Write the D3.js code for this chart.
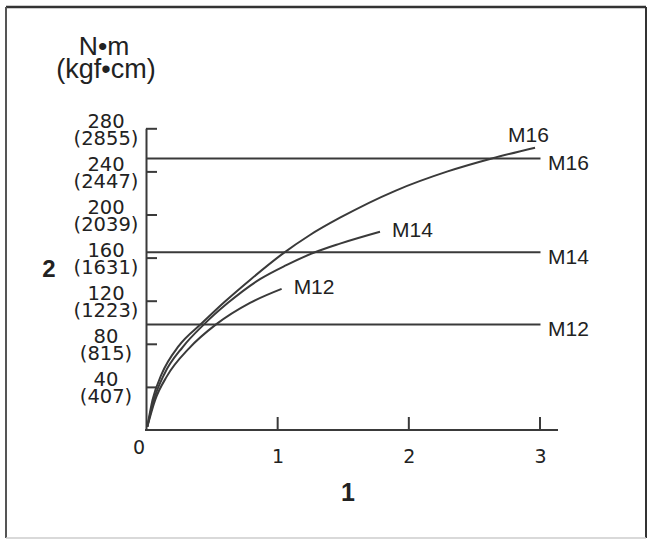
<!DOCTYPE html>
<html>
<head>
<meta charset="utf-8">
<script src="https://cdn.jsdelivr.net/npm/d3@7"></script>
<style>
  body { margin: 0; background: #fff; }
  text { font-family: "Liberation Sans", Arial, sans-serif; fill: #222; }
  text.num { font-family: "DejaVu Sans", sans-serif; }
</style>
</head>
<body>
<div id="chart"></div>
<script>
// torque curves
const xTicks = [0, 1, 2, 3];
const yTicks = [40, 80, 120, 160, 200, 240, 280];
const yTicksKgf = ["(407)", "(815)", "(1223)", "(1631)", "(2039)", "(2447)", "(2855)"];

const bolts = ["M12", "M14", "M16"];
const limits = [98, 165, 252];

const m12X = [0.01, 0.07, 0.16, 0.33, 0.534, 0.793, 1.034];
const m12Y = [3, 28, 50, 76, 98, 118, 131];
const m14X = [0.01, 0.06, 0.14, 0.28, 0.442, 0.625, 0.869, 1.07, 1.288, 1.479, 1.784];
const m14Y = [3, 28, 52, 77, 98, 118, 140, 153, 165, 173, 184];
const m16X = [0.01, 0.05, 0.12, 0.25, 0.425, 0.6, 0.8, 1.035, 1.25, 1.479, 1.9, 2.3, 2.636, 2.966];
const m16Y = [3, 28, 52, 78, 99, 119, 140, 163, 181, 197, 222, 240, 252, 262];

const curveXs = [m12X, m14X, m16X];
const curveYs = [m12Y, m14Y, m16Y];

const width = 648, height = 540;
const ink = "#3a3a3a";

const svg = d3.select("#chart")
  .append("svg")
  .attr("width", width)
  .attr("height", height);

// frame
svg.append("line").attr("x1", 6).attr("x2", 646).attr("y1", 7).attr("y2", 7)
  .attr("stroke", "#333").attr("stroke-width", 2.5);
svg.append("line").attr("x1", 6).attr("x2", 6).attr("y1", 7).attr("y2", 538)
  .attr("stroke", "#555").attr("stroke-width", 2);
svg.append("line").attr("x1", 646).attr("x2", 646).attr("y1", 7).attr("y2", 538)
  .attr("stroke", "#333").attr("stroke-width", 2);
svg.append("line").attr("x1", 6).attr("x2", 646).attr("y1", 538).attr("y2", 538)
  .attr("stroke", "#ccc").attr("stroke-width", 1.5);

const x = d3.scaleLinear().domain([0, 3]).range([146, 539.5]);
const y = d3.scaleLinear().domain([0, 280]).range([430, 128.3]);

// y axis, ticks pointing inward
const yAxis = svg.append("g")
  .attr("transform", `translate(${x(0)},0)`)
  .call(d3.axisLeft(y).tickValues(yTicks).tickSizeInner(-11).tickSizeOuter(0).tickFormat(""));
yAxis.select(".domain").attr("stroke", ink).attr("stroke-width", 2);
yAxis.selectAll(".tick line").attr("stroke", ink).attr("stroke-width", 2);

// x axis, ticks pointing up, baseline runs past 3
const xAxis = svg.append("g")
  .attr("transform", `translate(0,${y(0)})`)
  .call(d3.axisBottom(x).tickValues(xTicks.slice(1)).tickSizeInner(-13).tickSizeOuter(0).tickFormat(""));
xAxis.select(".domain").remove();
xAxis.selectAll(".tick line").attr("stroke", ink).attr("stroke-width", 2);
svg.append("line")
  .attr("x1", x(0) - 1).attr("x2", 558)
  .attr("y1", y(0)).attr("y2", y(0))
  .attr("stroke", ink).attr("stroke-width", 2);

// tick labels
svg.selectAll(".xlab")
  .data(xTicks)
  .enter()
  .append("text")
  .attr("class", "num")
  .attr("x", d => d == 0 ? x(d) - 7 : x(d) + 1)
  .attr("y", d => d == 0 ? y(0) + 24 : y(0) + 33)
  .attr("text-anchor", "middle")
  .attr("font-size", 19)
  .text(d => d);

const ylab = svg.selectAll(".ylab")
  .data(yTicks)
  .enter()
  .append("text")
  .attr("class", "num")
  .attr("text-anchor", "middle")
  .attr("font-size", 19.5);
ylab.append("tspan")
  .attr("x", 106)
  .attr("y", d => y(d) - 0.5)
  .text(d => d);
ylab.append("tspan")
  .attr("x", 106)
  .attr("y", d => y(d) + 16.5)
  .text((d, i) => yTicksKgf[i]);

// unit label
svg.append("text").attr("x", 104).attr("y", 55)
  .attr("text-anchor", "middle").attr("font-size", 26.5).text("N•m");
svg.append("text").attr("x", 106).attr("y", 78)
  .attr("text-anchor", "middle").attr("font-size", 27).text("(kgf•cm)");

// axis names
svg.append("text").attr("x", 49).attr("y", 277)
  .attr("text-anchor", "middle").attr("font-size", 24).attr("font-weight", "bold").text("2");
svg.append("text").attr("x", 348).attr("y", 501)
  .attr("text-anchor", "middle").attr("font-size", 25).attr("font-weight", "bold").text("1");

// limit lines
svg.selectAll(".limit")
  .data(limits)
  .enter()
  .append("line")
  .attr("class", "limit")
  .attr("x1", x(0)).attr("x2", x(3) + 1)
  .attr("y1", d => y(d)).attr("y2", d => y(d))
  .attr("stroke", ink).attr("stroke-width", 2);

svg.selectAll(".limitlab")
  .data(limits)
  .enter()
  .append("text")
  .attr("class", "limitlab")
  .attr("x", x(3) + 8.5)
  .attr("y", d => y(d) + 11.5)
  .attr("font-size", 21)
  .text((d, i) => bolts[i]);

// curves
const line = d3.line()
  .x(d => x(d[0]))
  .y(d => y(d[1]))
  .curve(d3.curveMonotoneX);

bolts.forEach((name, i) => {
  const pts = d3.zip(curveXs[i], curveYs[i]);
  svg.append("path")
    .datum(pts)
    .attr("fill", "none")
    .attr("stroke", ink)
    .attr("stroke-width", 2)
    .attr("d", line);

  const end = pts[pts.length - 1];
  const last = name == "M16";
  svg.append("text")
    .attr("x", x(end[0]) + (last ? -27 : 12))
    .attr("y", y(end[1]) + (last ? -6 : 5.5))
    .attr("font-size", 21)
    .text(name);
});
</script>
</body>
</html>
